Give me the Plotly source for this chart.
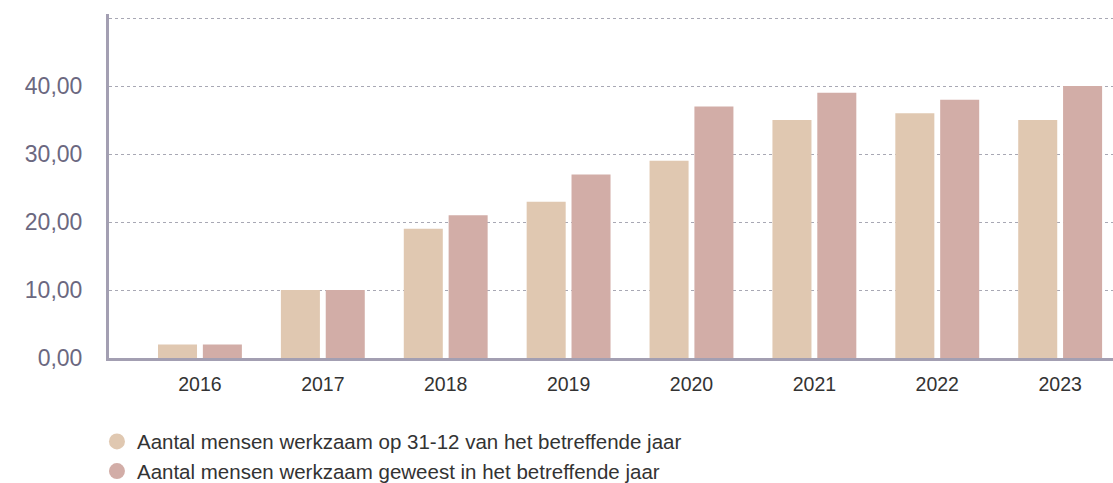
import plotly.graph_objects as go

years = ["2016", "2017", "2018", "2019", "2020", "2021", "2022", "2023"]
werkzaam_31_12 = [2, 10, 19, 23, 29, 35, 36, 35]
werkzaam_geweest = [2, 10, 21, 27, 37, 39, 38, 40]
series_names = [
    "Aantal mensen werkzaam op 31-12 van het betreffende jaar",
    "Aantal mensen werkzaam geweest in het betreffende jaar",
]
y_tickvals = [0, 10, 20, 30, 40, 50]
y_ticktext = ["0,00", "10,00", "20,00", "30,00", "40,00", ""]

c1 = "#E0C8B1"
c2 = "#D2ADA7"
font_family = "Liberation Sans, Arial, sans-serif"

fig = go.Figure()
for vals, col, name in [(werkzaam_31_12, c1, series_names[0]), (werkzaam_geweest, c2, series_names[1])]:
    fig.add_trace(go.Bar(x=years, y=vals, marker=dict(color=col, line=dict(width=0)),
                         name=name, showlegend=False, hoverinfo="y"))
for col, name in [(c1, series_names[0]), (c2, series_names[1])]:
    fig.add_trace(go.Scatter(x=[None], y=[None], mode="markers",
                             marker=dict(symbol="circle", size=22, color=col),
                             name=name, showlegend=True))

fig.update_layout(
    width=1113, height=483,
    margin=dict(l=109, r=0, t=14, b=125, autoexpand=False),
    paper_bgcolor="white", plot_bgcolor="white",
    barmode="group", bargap=0.27, bargroupgap=0.13,
    font=dict(family=font_family, color="#333333"),
    legend=dict(x=-0.012, y=-0.185, xanchor="left", yanchor="top", orientation="v",
                font=dict(size=20.5, color="#333333"), tracegroupgap=0,
                itemsizing="trace", bgcolor="rgba(0,0,0,0)"),
    xaxis=dict(type="category", range=[-0.74, 7.43], showgrid=False, automargin=False,
               showline=True, linecolor="#A39FB2", linewidth=3,
               ticks="", tickfont=dict(size=19.5, color="#333333"), ticklabelstandoff=7),
    yaxis=dict(range=[0, 50.6], tickvals=y_tickvals, ticktext=y_ticktext, automargin=False,
               showgrid=True, gridcolor="#A8A8B4", griddash="dot", gridwidth=1,
               showline=True, linecolor="#A39FB2", linewidth=3, zeroline=False,
               tickfont=dict(size=23, color="#6B6880"), ticklabelstandoff=19),
)

fig.write_html("out.html", config={"displayModeBar": False},
               post_script="document.body.style.margin='0';document.body.style.overflow='hidden';")
